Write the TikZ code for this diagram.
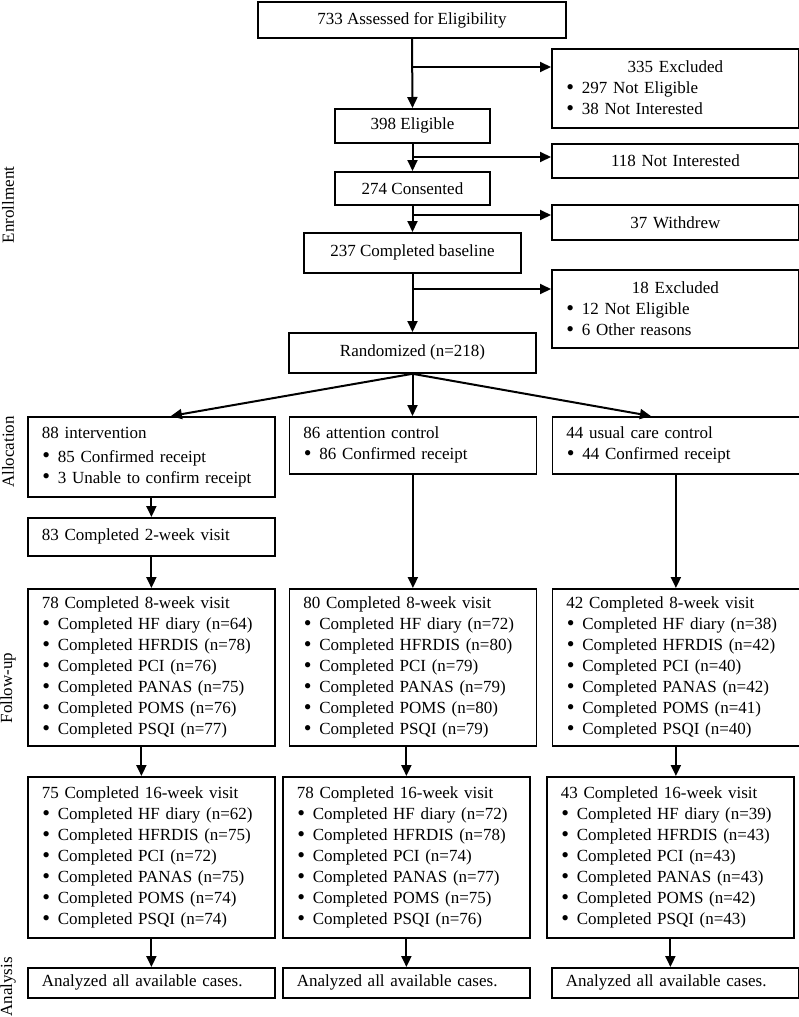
\documentclass[tikz,border=0pt]{standalone}
\usepackage{fontspec}
\setmainfont{Liberation Serif}
\usetikzlibrary{arrows.meta}
\newcommand{\itm}[1]{\makebox[16pt][l]{\hspace{0.5pt}\raisebox{-0.6pt}{\scalebox{1.3}{\textbullet}}}#1}
\newcommand{\lft}[1]{\makebox[219pt][l]{#1}}
\tikzset{
	blk/.style={draw, line width=1.8pt, font=\fontsize{17}{21}\selectfont},
	lbox/.style={blk, anchor=north west, text width=219pt, inner xsep=14pt, inner ysep=0pt, align=left},
	cbox/.style={blk, anchor=north west, text width=219pt, inner xsep=14pt, inner ysep=0pt, align=center},
	mbox/.style={blk, anchor=north, inner sep=0pt, align=center},
	arr/.style={line width=2pt, -{Triangle[length=11pt,width=10pt]}},
	phase/.style={rotate=90, inner sep=0pt, font=\fontsize{17}{21}\selectfont}
}
\begin{document}
	\begin{tikzpicture}[x=1pt,y=-1pt]
		\useasboundingbox (0,0) rectangle (799,1017);
		% phases
		\node[phase] (enr) at (8,205) {Enrollment};
		\node[phase] (alc) at (8,452) {Allocation};
		\node[phase] (fol) at (8,688) {Follow-up};
		\node[phase] (ana) at (8,987) {Analysis};

		% enrollment
		\node[mbox, minimum width=308pt, minimum height=36pt] (assess) at (412,1) {733 Assessed for Eligibility};
		\node[cbox, minimum height=79pt] (excl1) at (551,48) {335 Excluded\\ \lft{\itm{297 Not Eligible}}\\ \lft{\itm{38 Not Interested}}};
		\node[mbox, minimum width=155pt, minimum height=34pt] (elig) at (412.5,108) {398 Eligible};
		\node[cbox, minimum height=34pt] (notint) at (551,143) {118 Not Interested};
		\node[mbox, minimum width=155pt, minimum height=33pt] (consent) at (412.5,171) {274 Consented};
		\node[cbox, minimum height=35pt] (withdrew) at (551,204) {37 Withdrew};
		\node[mbox, minimum width=217pt, minimum height=40pt] (baseline) at (412.5,232) {237 Completed baseline};
		\node[cbox, minimum height=78pt] (excl2) at (551,269) {18 Excluded\\ \lft{\itm{12 Not Eligible}}\\ \lft{\itm{6 Other reasons}}};
		\node[mbox, minimum width=247pt, minimum height=40pt] (random) at (412.5,332) {Randomized (n=218)};

		% allocation
		\node[lbox, minimum height=80pt] (interv) at (27,416) {88 intervention\\[3pt] \itm{85 Confirmed receipt}\\ \itm{3 Unable to confirm receipt}};
		\node[lbox, minimum height=57pt] (attn) at (288.5,416) {86 attention control\\ \itm{86 Confirmed receipt}};
		\node[lbox, minimum height=57pt] (usual) at (551.5,416) {44 usual care control\\ \itm{44 Confirmed receipt}};
		\node[lbox, minimum height=38pt] (i2) at (27,517) {83 Completed 2-week visit};

		% follow-up
		\node[lbox, minimum height=157pt] (i8) at (27,588) {78 Completed 8-week visit\\ \itm{Completed HF diary (n=64)}\\ \itm{Completed HFRDIS (n=78)}\\ \itm{Completed PCI (n=76)}\\ \itm{Completed PANAS (n=75)}\\ \itm{Completed POMS (n=76)}\\ \itm{Completed PSQI (n=77)}};
		\node[lbox, minimum height=157pt] (a8) at (288.5,588) {80 Completed 8-week visit\\ \itm{Completed HF diary (n=72)}\\ \itm{Completed HFRDIS (n=80)}\\ \itm{Completed PCI (n=79)}\\ \itm{Completed PANAS (n=79)}\\ \itm{Completed POMS (n=80)}\\ \itm{Completed PSQI (n=79)}};
		\node[lbox, minimum height=157pt] (u8) at (551.5,588) {42 Completed 8-week visit\\ \itm{Completed HF diary (n=38)}\\ \itm{Completed HFRDIS (n=42)}\\ \itm{Completed PCI (n=40)}\\ \itm{Completed PANAS (n=42)}\\ \itm{Completed POMS (n=41)}\\ \itm{Completed PSQI (n=40)}};

		\node[lbox, minimum height=161pt] (i16) at (27,776) {75 Completed 16-week visit\\ \itm{Completed HF diary (n=62)}\\ \itm{Completed HFRDIS (n=75)}\\ \itm{Completed PCI (n=72)}\\ \itm{Completed PANAS (n=75)}\\ \itm{Completed POMS (n=74)}\\ \itm{Completed PSQI (n=74)}};
		\node[lbox, minimum height=161pt] (a16) at (282,776) {78 Completed 16-week visit\\ \itm{Completed HF diary (n=72)}\\ \itm{Completed HFRDIS (n=78)}\\ \itm{Completed PCI (n=74)}\\ \itm{Completed PANAS (n=77)}\\ \itm{Completed POMS (n=75)}\\ \itm{Completed PSQI (n=76)}};
		\node[lbox, minimum height=161pt] (u16) at (546,776) {43 Completed 16-week visit\\ \itm{Completed HF diary (n=39)}\\ \itm{Completed HFRDIS (n=43)}\\ \itm{Completed PCI (n=43)}\\ \itm{Completed PANAS (n=43)}\\ \itm{Completed POMS (n=42)}\\ \itm{Completed PSQI (n=43)}};

		% analysis
		\node[lbox, minimum height=30pt] (iA) at (27,967) {Analyzed all available cases.};
		\node[lbox, minimum height=30pt] (aA) at (282,967) {Analyzed all available cases.};
		\node[lbox, minimum height=30pt] (uA) at (551,967) {Analyzed all available cases.};

		% enrollment flow
		\coordinate (b1) at (413,67);
		\coordinate (b2) at (413,157);
		\coordinate (b3) at (413,215);
		\coordinate (b4) at (413,289);
		\draw[arr] (assess.south) -- (elig.north);
		\draw[arr] (b1) -- (b1 -| excl1.west);
		\draw[arr] (elig.south) -- (consent.north);
		\draw[arr] (b2) -- (b2 -| notint.west);
		\draw[arr] (consent.south) -- (baseline.north);
		\draw[arr] (b3) -- (b3 -| withdrew.west);
		\draw[arr] (baseline.south) -- (random.north);
		\draw[arr] (b4) -- (b4 -| excl2.west);

		% allocation flow
		\draw[arr] (random.south) -- ([xshift=19.5pt]interv.north);
		\draw[arr] (random.south) -- (random.south |- attn.north);
		\draw[arr] (random.south) -- ([xshift=-25pt]usual.north);
		\draw[arr] (interv.south) -- (interv.south |- i2.north);
		\draw[arr] (i2.south) -- (i2.south |- i8.north);
		\draw[arr] (attn.south) -- (attn.south |- a8.north);
		\draw[arr] (usual.south) -- (usual.south |- u8.north);

		% follow-up flow
		\draw[arr] ([xshift=-10pt]i8.south) -- ([xshift=-10pt]i8.south |- i16.north);
		\draw[arr] (a16.north |- a8.south) -- (a16.north);
		\draw[arr] (u8.south) -- (u8.south |- u16.north);
		\draw[arr] (i16.south) -- (i16.south |- iA.north);
		\draw[arr] (a16.south) -- (aA.north);
		\draw[arr] (u16.south) -- (u16.south |- uA.north);
	\end{tikzpicture}
\end{document}
